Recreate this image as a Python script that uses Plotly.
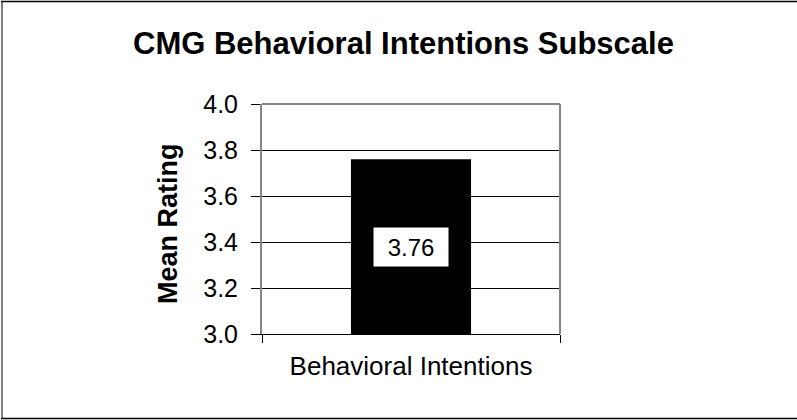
import plotly.graph_objects as go

# Chart data
categories = ["Behavioral Intentions"]
mean_ratings = [3.76]
y_ticks = [3.0, 3.2, 3.4, 3.6, 3.8, 4.0]
axis_min, axis_max = 3.0, 4.0

W, H = 797, 420
L, R, T, B = 262, 237, 104, 86
PW, PH = W - L - R, H - T - B


def px_x(px):
    return (px - L) / PW


def px_y(py):
    return (H - B - py) / PH


FONT = "Liberation Sans, Arial, sans-serif"

fig = go.Figure()
fig.add_trace(go.Bar(
    x=categories,
    y=[v - axis_min for v in mean_ratings],
    base=axis_min,
    marker=dict(color="black", line=dict(width=0)),
    hoverinfo="skip",
))

# Value labels in white boxes at the middle of each bar
for i, val in enumerate(mean_ratings):
    fig.add_annotation(
        x=i, y=(axis_min + val) / 2, xref="x", yref="y",
        text=f"{val:.2f}", showarrow=False,
        font=dict(family=FONT, size=24, color="black"),
        bgcolor="white", borderpad=4, width=66, height=30,
    )

# Axis title
fig.add_annotation(
    x=px_x(168), y=px_y(224), xref="paper", yref="paper",
    xanchor="center", yanchor="middle",
    text="<b>Mean Rating</b>", textangle=-90, showarrow=False,
    font=dict(family=FONT, size=27, color="black"),
)

shapes = [
    # plot-area frame (grey) on top and right
    dict(type="line", xref="paper", yref="paper", x0=0, x1=1, y0=1, y1=1,
         line=dict(color="#868686", width=2), layer="above"),
    dict(type="line", xref="paper", yref="paper", x0=1, x1=1, y0=0, y1=1,
         line=dict(color="#868686", width=2), layer="above"),
    # outer chart border
    dict(type="line", xref="paper", yref="paper", x0=px_x(2), x1=px_x(2),
         y0=px_y(1), y1=px_y(419), line=dict(color="#7f7f7f", width=2)),
    dict(type="line", xref="paper", yref="paper", x0=px_x(1), x1=px_x(797),
         y0=px_y(1.5), y1=px_y(1.5), line=dict(color="black", width=1.5)),
    dict(type="line", xref="paper", yref="paper", x0=px_x(1), x1=px_x(797),
         y0=px_y(418.5), y1=px_y(418.5), line=dict(color="black", width=1.5)),
]

fig.update_layout(
    width=W, height=H,
    margin=dict(l=L, r=R, t=T, b=B, autoexpand=False),
    paper_bgcolor="white", plot_bgcolor="white",
    showlegend=False,
    bargap=0.597,
    title=dict(
        text="<b>CMG Behavioral Intentions Subscale</b>",
        x=403.5 / W, xanchor="center", xref="container",
        y=1 - 43.5 / H, yanchor="middle", yref="container",
        font=dict(family=FONT, size=31, color="black"),
    ),
    shapes=shapes,
    font=dict(family=FONT, color="black"),
)

fig.update_xaxes(
    type="category",
    showline=True, linecolor="black", linewidth=1,
    ticks="outside", tickson="boundaries", ticklen=8, tickcolor="black", tickwidth=1,
    showgrid=False, zeroline=False,
    ticklabelstandoff=9,
    tickfont=dict(family=FONT, size=26, color="black"),
)

fig.update_yaxes(
    range=[axis_min, axis_max],
    tickvals=y_ticks, ticktext=[f"{t:.1f}" for t in y_ticks],
    showline=True, linecolor="#868686", linewidth=2,
    ticks="outside", ticklen=9, tickcolor="black", tickwidth=1,
    showgrid=True, gridcolor="black", gridwidth=1,
    zeroline=False,
    ticklabelstandoff=8,
    tickfont=dict(family=FONT, size=25, color="black"),
)

fig.write_html("out.html")
